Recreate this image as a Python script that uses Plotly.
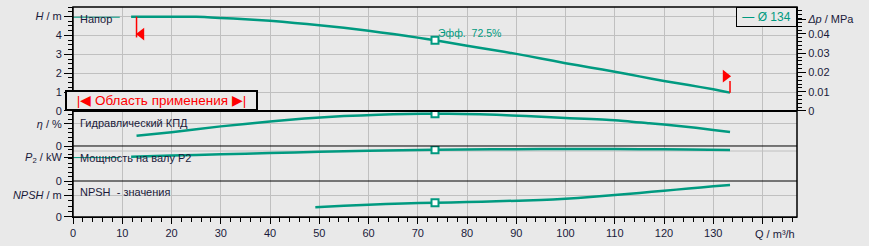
import plotly.graph_objects as go

# ---------------- data ----------------
Q_H = [11.8, 20, 25, 30, 35, 40, 45, 50, 55, 60, 65, 70, 73.5, 80, 85, 90, 95,
       100, 105, 110, 115, 120, 125, 130, 133.4]
H = [4.99, 4.99, 4.98, 4.92, 4.85, 4.77, 4.66, 4.54, 4.40, 4.24, 4.07, 3.88, 3.74,
     3.45, 3.24, 3.02, 2.78, 2.53, 2.30, 2.08, 1.83, 1.59, 1.37, 1.15, 0.97]

Q_ext = [0, 9.5]
H_ext = [4.96, 4.96]
P2_ext = [0.78, 0.78]

Q_eta = [12.9, 20, 30, 40, 47, 55, 62, 68, 73.5, 79, 86, 92, 100, 110, 117, 123, 130, 133.4]
eta = [23, 31, 44, 55, 61.5, 67, 70, 71.8, 72.5, 71.8, 70, 67, 63, 58, 51, 45, 36, 31.4]

Q_P2 = [11.8, 20, 30, 40, 50, 60, 73.5, 85, 95, 105, 115, 125, 133.4]
P2 = [0.81, 0.85, 0.89, 0.93, 0.975, 1.005, 1.04, 1.055, 1.065, 1.067, 1.062, 1.05, 1.035]

Q_npsh = [49.2, 55, 60, 67, 73.5, 80, 86, 95, 100, 105, 110, 115, 120, 125, 130, 133.4]
npsh = [0.91, 1.03, 1.14, 1.25, 1.31, 1.38, 1.45, 1.57, 1.68, 1.84, 2.03, 2.22, 2.43, 2.62, 2.83, 2.96]

Q_bep = 73.5
diam_label = "Ø 134"
x_tick_vals = [0, 10, 20, 30, 40, 50, 60, 70, 80, 90, 100, 110, 120, 130, 140]
x_tick_text = ["0", "10", "20", "30", "40", "50", "60", "70", "80", "90", "100",
               "110", "120", "130", " "]
h_tick_vals = [0, 1, 2, 3, 4, 5]
h_tick_text = ["0", "1", "2", "3", "4", "<i>H</i> / m"]
dp_tick_vals = [0, 0.01, 0.02, 0.03, 0.04, 0.0475]
dp_tick_text = ["0", "0.01", "0.02", "0.03", "0.04", "<i>Δp</i> / MPa"]
MPA_PER_M = 0.00981

# ---------------- style ----------------
TEAL = "#009a80"
RED = "#ff0000"
BG = "#e9e9e9"
GRID = "#c0c0c0"
TXT = "#1a1a3a"
FONT = "Liberation Sans, Arial, sans-serif"

H_bep = H[Q_H.index(Q_bep)]
eta_bep = eta[Q_eta.index(Q_bep)]
P2_bep = P2[Q_P2.index(Q_bep)]
npsh_bep = npsh[Q_npsh.index(Q_bep)]
Q_lo = Q_eta[0]
Q_hi = Q_H[-1]

fig = go.Figure()

def line(x, y, yaxis, width=2.5):
    fig.add_trace(go.Scatter(x=x, y=y, yaxis=yaxis, mode="lines",
                             line=dict(color=TEAL, width=width, shape="spline", smoothing=0.6),
                             hoverinfo="skip", showlegend=False))

line(Q_ext, H_ext, "y", 1)
line(Q_H, H, "y")
line(Q_eta, eta, "y2")
line(Q_ext, P2_ext, "y3", 1)
line(Q_P2, P2, "y3")
line(Q_npsh, npsh, "y4")
# invisible trace for the pressure axis
fig.add_trace(go.Scatter(x=Q_H, y=[h * MPA_PER_M for h in H], yaxis="y5", mode="lines",
                         line=dict(width=0), opacity=0, hoverinfo="skip", showlegend=False))

for yv, ax in [(H_bep, "y"), (eta_bep, "y2"), (P2_bep, "y3"), (npsh_bep, "y4")]:
    fig.add_trace(go.Scatter(x=[Q_bep], y=[yv], yaxis=ax, mode="markers",
                             marker=dict(symbol="square", size=7, color="white",
                                         line=dict(color=TEAL, width=2)),
                             hoverinfo="skip", showlegend=False))

# application-range flags
H_lo = H[0]
fig.add_trace(go.Scatter(x=[Q_lo + 1.0], y=[H_lo - 0.92], yaxis="y", mode="markers",
                         marker=dict(symbol="triangle-left", size=11, color=RED),
                         hoverinfo="skip", showlegend=False))
fig.add_trace(go.Scatter(x=[Q_hi - 0.9], y=[H[-1] + 0.87], yaxis="y", mode="markers",
                         marker=dict(symbol="triangle-right", size=11, color=RED),
                         hoverinfo="skip", showlegend=False))

shapes = [
    dict(type="line", xref="x", yref="y", x0=Q_lo, x1=Q_lo, y0=H_lo, y1=H_lo - 1.1,
         line=dict(color=RED, width=1.5)),
    dict(type="line", xref="x", yref="y", x0=Q_hi, x1=Q_hi, y0=H[-1], y1=H[-1] + 0.62,
         line=dict(color=RED, width=1.5)),
    dict(type="line", xref="paper", yref="y3", x0=0, x1=1, y0=1.0, y1=1.0,
         line=dict(color=GRID, width=1), layer="below"),
    dict(type="rect", xref="paper", yref="paper", x0=0, x1=1, y0=0, y1=1,
         line=dict(color="black", width=1.5)),
    dict(type="line", xref="paper", yref="paper", x0=0, x1=1, y0=0.5048, y1=0.5048,
         line=dict(color="black", width=2)),
    dict(type="line", xref="paper", yref="paper", x0=0, x1=1, y0=0.3381, y1=0.3381,
         line=dict(color="black", width=1)),
    dict(type="line", xref="paper", yref="paper", x0=0, x1=1, y0=0.1714, y1=0.1714,
         line=dict(color="black", width=1)),
]

tf = dict(family=FONT, size=11, color=TXT)

def yax(domain, rng, tv, tt, minor_dtick, grid=True):
    return dict(domain=domain, range=rng, anchor="x", tickmode="array", tickvals=tv,
                ticktext=tt, ticks="outside", ticklen=8, tickcolor="black",
                showline=True, linecolor="black", linewidth=1,
                showgrid=grid, gridcolor=GRID, gridwidth=1, zeroline=False,
                tickfont=tf, fixedrange=True,
                minor=dict(tickmode="linear", tick0=0, dtick=minor_dtick, ticks="outside",
                           ticklen=4, tickcolor="black", showgrid=False))

annotations = [
    dict(xref="paper", yref="paper", x=0, xshift=5, y=0.9414, text="Напор",
         xanchor="left", yanchor="middle", showarrow=False, font=tf),
    dict(xref="paper", yref="paper", x=0, xshift=5, y=0.4476, text="Гидравлический КПД",
         xanchor="left", yanchor="middle", showarrow=False, font=tf),
    dict(xref="paper", yref="paper", x=0, xshift=5, y=0.2824, text="Мощность на валу P2",
         xanchor="left", yanchor="middle", showarrow=False, font=tf),
    dict(xref="paper", yref="paper", x=0, xshift=5, y=0.1176, text="NPSH  - значения",
         xanchor="left", yanchor="middle", showarrow=False, font=tf),
    dict(xref="x", yref="y", x=Q_bep, y=H_bep, xshift=1, yshift=7,
         text=f"Эфф.  {eta_bep}%", xanchor="left", yanchor="middle", showarrow=False,
         font=dict(family=FONT, size=10.5, color=TEAL)),
    dict(xref="paper", yref="paper", x=1, y=1, xanchor="right", yanchor="top",
         text=f"— {diam_label}", showarrow=False, bordercolor="black", borderwidth=1,
         borderpad=1, width=57, height=16, bgcolor=BG,
         font=dict(family=FONT, size=12, color=TEAL)),
    dict(xref="paper", yref="paper", x=0, xshift=-8, y=0.5048, xanchor="left",
         yanchor="bottom", text="|◀ Область применения ▶|", showarrow=False,
         bordercolor="black", borderwidth=2, borderpad=1, width=187, height=15,
         bgcolor=BG, font=dict(family=FONT, size=13.5, color=RED)),
    dict(xref="x", yref="paper", x=x_tick_vals[-1], xshift=-10, y=0, yshift=-17,
         xanchor="left", yanchor="middle", text="Q / m³/h", showarrow=False, font=tf),
]

fig.update_layout(
    width=869, height=246,
    margin=dict(l=73, r=72, t=7, b=29),
    paper_bgcolor=BG, plot_bgcolor=BG,
    showlegend=False,
    font=dict(family=FONT, size=11, color=TXT),
    xaxis=dict(domain=[0, 1], range=[0, 147], anchor="y4", tickmode="array",
               tickvals=x_tick_vals, ticktext=x_tick_text, ticks="outside", ticklen=6,
               tickcolor="black", showline=True, linecolor="black", showgrid=True,
               gridcolor=GRID, zeroline=False, tickfont=tf, fixedrange=True,
               minor=dict(tickmode="linear", tick0=0, dtick=2, ticks="outside",
                          ticklen=4, tickcolor="black", showgrid=False)),
    yaxis=yax([0.5048, 1], [0, 5.5], h_tick_vals, h_tick_text, 0.25),
    yaxis2=yax([0.3381, 0.5048], [0, 78.5], [0, 50], ["0", "<i>η</i> / %"], 10),
    yaxis3=yax([0.1714, 0.3381], [0, 1.167], [0, 0.8], ["0", "<i>P</i><sub>2</sub> / kW"],
               0.15, grid=False),
    yaxis4=yax([0, 0.1714], [0, 3.32], [0, 2], ["0", "<i>NPSH</i> / m"], 0.5),
    yaxis5=dict(overlaying="y", side="right", anchor="x", range=[0, 5.5 * MPA_PER_M],
                tickmode="array", tickvals=dp_tick_vals, ticktext=dp_tick_text,
                ticks="outside", ticklen=8, tickcolor="black", showline=True,
                linecolor="black", showgrid=False, zeroline=False, tickfont=tf,
                fixedrange=True,
                minor=dict(tickmode="linear", tick0=0, dtick=0.002, ticks="outside",
                           ticklen=4, tickcolor="black", showgrid=False)),
    shapes=shapes,
    annotations=annotations,
)

fig.write_html("out.html")
